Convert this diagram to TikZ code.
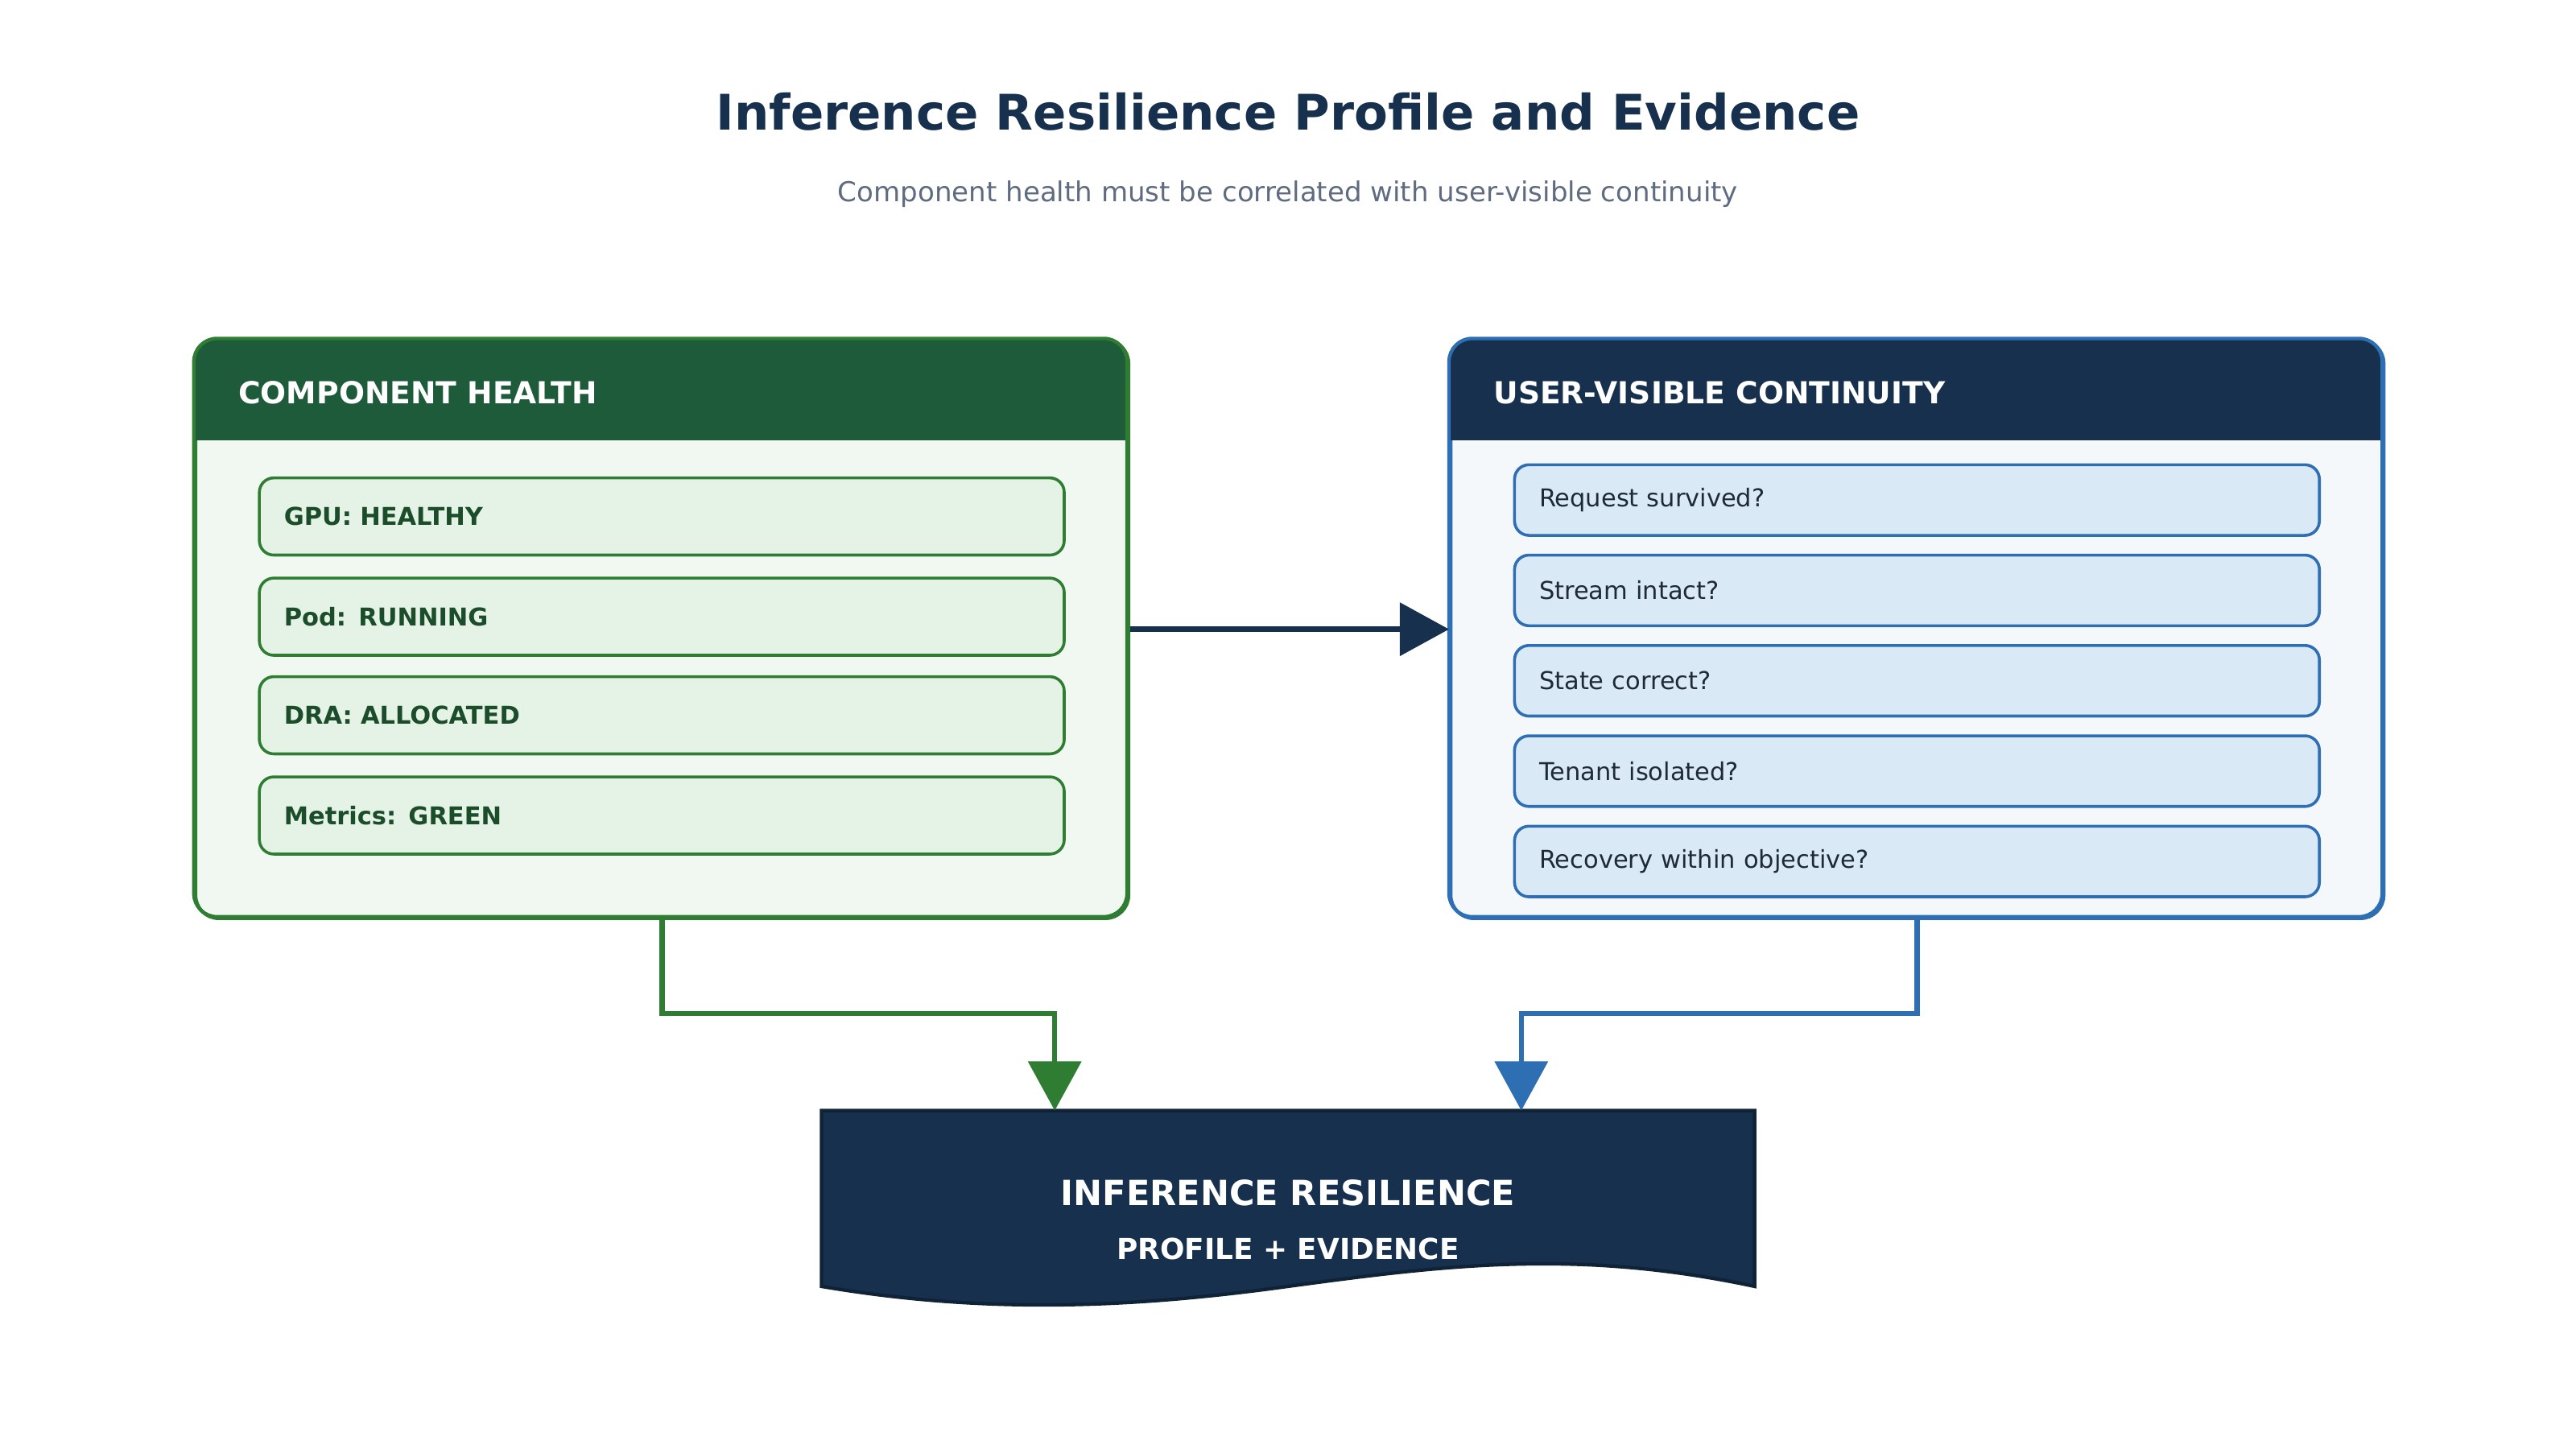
\documentclass[tikz,border=0pt]{standalone}
\usepackage{fontspec}
\setmainfont{DejaVu Sans}
\usetikzlibrary{positioning,arrows.meta}
\definecolor{navy}{HTML}{17304D}
\definecolor{dgreen}{HTML}{1E5B3A}
\definecolor{lgreen}{HTML}{2E7D32}
\definecolor{gbody}{HTML}{F1F8F1}
\definecolor{gitem}{HTML}{E5F3E6}
\definecolor{gtext}{HTML}{1B4D2A}
\definecolor{blue}{HTML}{2E6FB3}
\definecolor{bbody}{HTML}{F4F8FB}
\definecolor{bitem}{HTML}{D9E9F5}
\definecolor{btext}{HTML}{1F2A37}
\definecolor{sub}{HTML}{5F6B80}
\begin{document}
\begin{tikzpicture}[x=0.02cm, y=-0.02cm,
panelbox/.style={rectangle, rounded corners=8pt, line width=1.2pt, minimum width=11.36cm, minimum height=7.04cm, anchor=north west},
headtext/.style={font=\bfseries\fontsize{10.5}{12}\selectfont, text=white, anchor=west},
greenitem/.style={rectangle, rounded corners=5pt, draw=lgreen, fill=gitem, line width=1pt, minimum width=9.8cm, minimum height=0.94cm, anchor=north west, text width=9.2cm, align=left, font=\bfseries\fontsize{8.5}{10}\selectfont, text=gtext},
blueitem/.style={rectangle, rounded corners=5pt, draw=blue, fill=bitem, line width=1pt, minimum width=9.8cm, minimum height=0.86cm, anchor=north west, text width=9.2cm, align=left, font=\fontsize{8.5}{10}\selectfont, text=btext},
link/.style={line width=1.8pt, -{Triangle[length=0.6cm, width=0.64cm]}},
]
\useasboundingbox (0,0) rectangle (1568,882);
%Title
\node[font=\bfseries\fontsize{17}{20}\selectfont, text=navy] (title) at (784,68) {Inference Resilience Profile and Evidence};
\node[font=\fontsize{9.5}{11}\selectfont, text=sub] (subtitle) at (784,118) {Component health must be correlated with user-visible continuity};

%Panels
\node[panelbox, draw=lgreen, fill=gbody] (health) at (118,206) {};
\fill[dgreen, rounded corners=8pt] (118,206) rectangle (686,268);
\fill[dgreen] (118,240) rectangle (686,268);
\node[headtext] (healthhead) at (139,239) {COMPONENT HEALTH};

\node[panelbox, draw=blue, fill=bbody] (user) at (882,206) {};
\fill[navy, rounded corners=8pt] (882,206) rectangle (1450,268);
\fill[navy] (882,240) rectangle (1450,268);
\node[headtext] (userhead) at (903,239) {USER-VISIBLE CONTINUITY};
\draw[draw=lgreen, line width=1.2pt, rounded corners=8pt] (118,206) rectangle (686,558);
\draw[draw=blue, line width=1.2pt, rounded corners=8pt] (882,206) rectangle (1450,558);

%Items
\node[greenitem] (gpu) at (157,290) {GPU: HEALTHY};
\node[greenitem] (pod) at (157,351) {Pod: RUNNING};
\node[greenitem] (dra) at (157,411) {DRA: ALLOCATED};
\node[greenitem] (metrics) at (157,472) {Metrics: GREEN};

\node[blueitem] (request) at (921,282) {Request survived?};
\node[blueitem] (stream) at (921,337) {Stream intact?};
\node[blueitem] (state) at (921,392) {State correct?};
\node[blueitem] (tenant) at (921,447) {Tenant isolated?};
\node[blueitem] (recovery) at (921,502) {Recovery within objective?};

%Evidence document
\draw[fill=navy, draw=navy!70!black, line width=1.2pt] (500,676) -- (1068,676) -- (1068,783)
  .. controls (960,760) and (880,770) .. (784,783)
  .. controls (690,796) and (600,800) .. (500,783) -- cycle;
\node[font=\bfseries\fontsize{12}{14}\selectfont, text=white] (evidence) at (784,726) {INFERENCE RESILIENCE};
\node[font=\bfseries\fontsize{10}{12}\selectfont, text=white] (evidencesub) at (784,760) {PROFILE + EVIDENCE};
\coordinate (docg) at (642,676);
\coordinate (docb) at (926,676);

%Lines
\draw[link, navy] (health.east) -- (user.west);
\draw[link, lgreen] (health.south) |- (642,617) -- (docg);
\draw[link, blue] (user.south) |- (926,617) -- (docb);
\end{tikzpicture}
\end{document}
